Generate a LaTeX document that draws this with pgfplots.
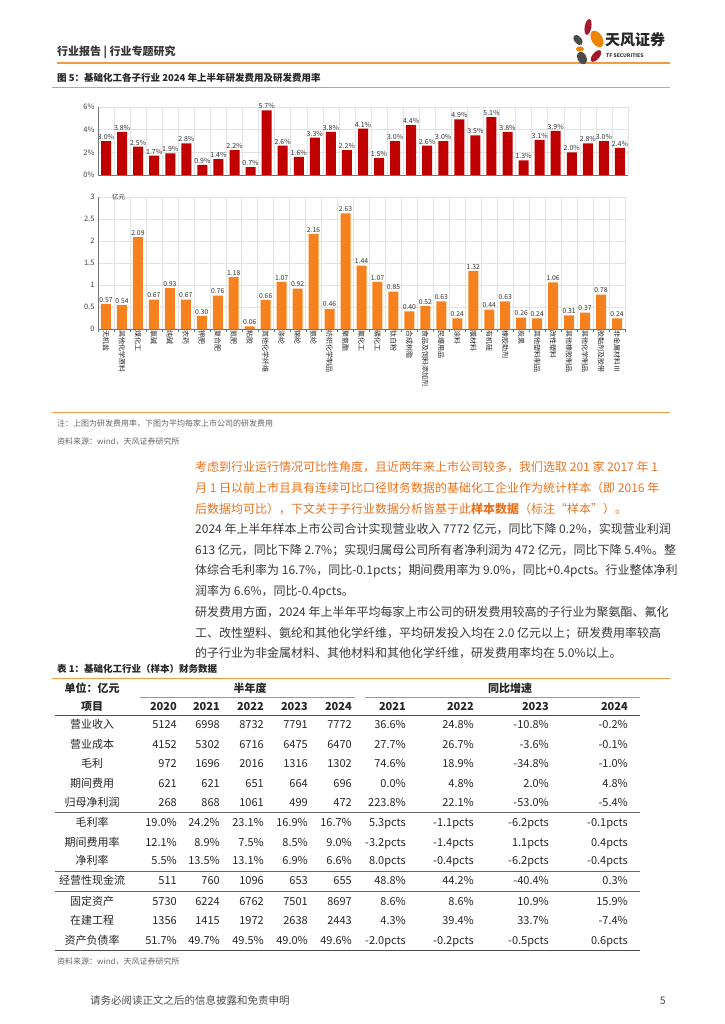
\documentclass[border=0pt]{standalone}
\usepackage{fontspec}
\setmainfont{Noto Sans CJK SC}
\usepackage{pgfplots}
\pgfplotsset{compat=1.18}
\pgfplotsset{/pgf/number format/assume math mode=true}
\definecolor{tfred}{HTML}{C00000}
\definecolor{tforange}{HTML}{F5821F}
\definecolor{lineor}{HTML}{F29A45}
\definecolor{txtor}{HTML}{E8731E}
\definecolor{bodyg}{HTML}{3A3A3A}
\definecolor{logogray}{HTML}{4A4A4A}
\definecolor{logored}{HTML}{A3192E}
\definecolor{logoor}{HTML}{F08300}
\newcommand\fs[1]{\fontsize{#1}{#1}\selectfont}
\begin{document}
\begin{tikzpicture}
\path[use as bounding box, fill=white] (0pt,0pt) rectangle (724pt,-1024pt);

% ---------- top chart: R&D expense rate ----------
\begin{axis}[at={(98pt,-175pt)}, anchor=south west, scale only axis,
  width=530pt, height=68pt,
  xmin=-0.5, xmax=32.5, ymin=0, ymax=6,
  axis x line*=bottom, axis y line*=left,
  axis line style={black!55, line width=0.6pt},
  xtick={-0.5,0.5,...,32.5}, xticklabels={}, xmajorgrids,
  ytick={0,2,4,6}, ymajorgrids,
  yticklabel={\pgfmathprintnumber{\tick}\%},
  yticklabel style={font=\fs{7.5}, color=black!75},
  grid style={gray!22, line width=0.5pt},
  tick style={draw=none},
  ybar, bar width=10pt,
  nodes near coords={\pgfmathprintnumber[fixed,fixed zerofill,precision=1]{\pgfplotspointmeta}\%},
  point meta=y,
  nodes near coords style={font=\fs{7}, color=black!80, inner sep=1.2pt},
  clip=false]
\addplot[fill=tfred, draw=none] coordinates {
(0,3.0) (1,3.8) (2,2.5) (3,1.7) (4,1.9) (5,2.8) (6,0.9) (7,1.4) (8,2.2) (9,0.7)
(10,5.7) (11,2.6) (12,1.6) (13,3.3) (14,3.8) (15,2.2) (16,4.1) (17,1.5) (18,3.0) (19,4.4)
(20,2.6) (21,3.0) (22,4.9) (23,3.5) (24,5.1) (25,3.8) (26,1.3) (27,3.1) (28,3.9) (29,2.0)
(30,2.8) (31,3.0) (32,2.4)};
\end{axis}

% ---------- bottom chart: average R&D expense per company ----------
\begin{axis}[at={(98pt,-329pt)}, anchor=south west, scale only axis,
  width=527pt, height=132pt,
  xmin=-0.5, xmax=32.5, ymin=0, ymax=3,
  axis x line*=bottom, axis y line*=left,
  axis line style={black!55, line width=0.6pt},
  xtick={0,...,32},
  xticklabels={无机盐,其他化学原料,煤化工,氯碱,纯碱,农药,钾肥,复合肥,氮肥,粘胶,其他化学纤维,涤纶,锦纶,氨纶,纺织化学制品,聚氨酯,氟化工,磷化工,钛白粉,合成树脂,食品及饲料添加剂,民爆用品,涂料,膜材料,有机硅,橡胶助剂,炭黑,其他塑料制品,改性塑料,其他橡胶制品,其他化学制品,胶黏剂及胶带,非金属材料Ⅲ},
  xticklabel style={rotate=-90, anchor=west, font=\fs{7}, color=black!85, inner sep=1pt},
  minor xtick={-0.5,0.5,...,32.5}, xminorgrids,
  ytick={0,0.5,...,3}, ymajorgrids,
  yticklabel style={font=\fs{7.5}, color=black!75},
  grid style={gray!22, line width=0.5pt},
  major tick length=0pt, minor tick length=2.5pt, tick align=outside,
  minor tick style={black!55},
  ybar, bar width=10pt,
  nodes near coords={\pgfmathprintnumber[fixed,fixed zerofill,precision=2]{\pgfplotspointmeta}},
  point meta=y,
  nodes near coords style={font=\fs{6.8}, color=black!80, inner sep=1.5pt},
  clip=false]
\addplot[fill=tforange, draw=none] coordinates {
(0,0.57) (1,0.54) (2,2.09) (3,0.67) (4,0.93) (5,0.67) (6,0.30) (7,0.76) (8,1.18) (9,0.06)
(10,0.66) (11,1.07) (12,0.92) (13,2.16) (14,0.46) (15,2.63) (16,1.44) (17,1.07) (18,0.85) (19,0.40)
(20,0.52) (21,0.63) (22,0.24) (23,1.32) (24,0.44) (25,0.63) (26,0.26) (27,0.24) (28,1.06) (29,0.31)
(30,0.37) (31,0.78) (32,0.24)};
\end{axis}

\begin{scope}[x=1pt, y=-1pt]
% header
\node[anchor=base west, inner sep=0, font=\fs{11}\bfseries, color=black!80] at (57,56) {行业报告 | 行业专题研究};
\draw[lineor, line width=1.8pt] (57,63) -- (670,63);
% logo
\fill[logored, rotate around={-10:(588,27)}] (588,27) ellipse [x radius=3.3, y radius=8];
\fill[logogray, rotate around={40:(578,40)}] (578,40) ellipse [x radius=3.5, y radius=6];
\fill[logoor, rotate around={30:(597,39)}] (597,39) ellipse [x radius=5.5, y radius=9];
\fill[logoor] (580,49) ellipse [x radius=4, y radius=2.6];
\fill[logored, rotate around={-40:(596,56)}] (596,56) ellipse [x radius=3.5, y radius=7];
\fill[logogray, rotate around={25:(582,58)}] (582,58) ellipse [x radius=4.5, y radius=6.5];
\node[anchor=base west, inner sep=0, font=\fs{15}\bfseries, color=black!85] at (605,46) {天风证券};
\node[anchor=base west, inner sep=0, font=\fs{5}\bfseries, color=black!80] at (606,58) {TF SECURITIES};
% figure title
\node[anchor=base west, inner sep=0, font=\fs{9.5}\bfseries, color=black!85] at (57,82) {图 5：基础化工各子行业 2024 年上半年研发费用及研发费用率};
\draw[lineor, line width=1pt] (52,88) -- (670,88);
\node[anchor=base west, inner sep=0, font=\fs{6.5}, color=black!80] at (112,200) {亿元};
\draw[lineor, line width=1pt] (52,412) -- (670,412);
\node[anchor=base west, inner sep=0, font=\fs{8}, color=black!60] at (57,426) {注：上图为研发费用率，下图为平均每家上市公司的研发费用};
\node[anchor=base west, inner sep=0, font=\fs{8}, color=black!60] at (57,444) {资料来源：wind，天风证券研究所};

% paragraphs
\begin{scope}[every node/.style={anchor=base west, inner sep=0, font=\fs{12}}]
\node[color=txtor] at (195,471) {考虑到行业运行情况可比性角度，且近两年来上市公司较多，我们选取 201 家 2017 年 1};
\node[color=txtor] at (195,492) {月 1 日以前上市且具有连续可比口径财务数据的基础化工企业作为统计样本（即 2016 年};
\node[color=txtor] at (195,513) {后数据均可比），下文关于子行业数据分析皆基于此{\bfseries 样本数据}（标注“样本”）。};
\node[color=bodyg] at (195,533) {2024 年上半年样本上市公司合计实现营业收入 7772 亿元，同比下降 0.2\%，实现营业利润};
\node[color=bodyg] at (195,554) {613 亿元，同比下降 2.7\%；实现归属母公司所有者净利润为 472 亿元，同比下降 5.4\%。整};
\node[color=bodyg] at (195,574) {体综合毛利率为 16.7\%，同比-0.1pcts；期间费用率为 9.0\%，同比+0.4pcts。行业整体净利};
\node[color=bodyg] at (195,595) {润率为 6.6\%，同比-0.4pcts。};
\node[color=bodyg] at (195,616) {研发费用方面，2024 年上半年平均每家上市公司的研发费用较高的子行业为聚氨酯、氟化};
\node[color=bodyg] at (195,637) {工、改性塑料、氨纶和其他化学纤维，平均研发投入均在 2.0 亿元以上；研发费用率较高};
\node[color=bodyg] at (195,657) {的子行业为非金属材料、其他材料和其他化学纤维，研发费用率均在 5.0\%以上。};
\end{scope}

% table
\node[anchor=base west, inner sep=0, font=\fs{9.5}\bfseries, color=black!85] at (57,672) {表 1：基础化工行业（样本）财务数据};
\draw[lineor, line width=1pt] (52,678) -- (670,678);
\begin{scope}[every node/.style={inner sep=0, font=\fs{11}, color=black!85}]
\node[anchor=base, font=\fs{11}\bfseries] at (92,692) {单位：亿元};
\node[anchor=base, font=\fs{11}\bfseries] at (250,692) {半年度};
\node[anchor=base, font=\fs{11}\bfseries] at (510,692) {同比增速};
\draw[black!40, line width=0.5pt] (140,697) -- (355,697);
\draw[black!40, line width=0.5pt] (365,697) -- (640,697);
\node[anchor=base, font=\fs{11}\bfseries] at (92,710) {项目};
\foreach \x/\t in {177/2020,220/2021,264/2022,308/2023,352/2024,406/2021,474/2022,549/2023,628/2024}
  \node[anchor=base east, font=\fs{11}\bfseries] at (\x,710) {\t};
\draw[black!70, line width=0.8pt] (55,715.5) -- (640,715.5);
\foreach \y/\lab/\a/\b/\c/\d/\e/\f/\g/\h/\i in {
 728/营业收入/5124/6998/8732/7791/7772/36.6\%/24.8\%/-10.8\%/-0.2\%,
 748/营业成本/4152/5302/6716/6475/6470/27.7\%/26.7\%/-3.6\%/-0.1\%,
 767/毛利/972/1696/2016/1316/1302/74.6\%/18.9\%/-34.8\%/-1.0\%,
 787/期间费用/621/621/651/664/696/0.0\%/4.8\%/2.0\%/4.8\%,
 806/归母净利润/268/868/1061/499/472/223.8\%/22.1\%/-53.0\%/-5.4\%,
 826/毛利率/19.0\%/24.2\%/23.1\%/16.9\%/16.7\%/5.3pcts/-1.1pcts/-6.2pcts/-0.1pcts,
 846/期间费用率/12.1\%/8.9\%/7.5\%/8.5\%/9.0\%/-3.2pcts/-1.4pcts/1.1pcts/0.4pcts,
 864/净利率/5.5\%/13.5\%/13.1\%/6.9\%/6.6\%/8.0pcts/-0.4pcts/-6.2pcts/-0.4pcts,
 884/经营性现金流/511/760/1096/653/655/48.8\%/44.2\%/-40.4\%/0.3\%,
 905/固定资产/5730/6224/6762/7501/8697/8.6\%/8.6\%/10.9\%/15.9\%,
 924/在建工程/1356/1415/1972/2638/2443/4.3\%/39.4\%/33.7\%/-7.4\%,
 944/资产负债率/51.7\%/49.7\%/49.5\%/49.0\%/49.6\%/-2.0pcts/-0.2pcts/-0.5pcts/0.6pcts}{
  \node[anchor=base] at (92,\y) {\lab};
  \node[anchor=base east] at (177,\y) {\a};
  \node[anchor=base east] at (220,\y) {\b};
  \node[anchor=base east] at (264,\y) {\c};
  \node[anchor=base east] at (308,\y) {\d};
  \node[anchor=base east] at (352,\y) {\e};
  \node[anchor=base east] at (406,\y) {\f};
  \node[anchor=base east] at (474,\y) {\g};
  \node[anchor=base east] at (549,\y) {\h};
  \node[anchor=base east] at (628,\y) {\i};
}
\draw[black!60, line width=0.6pt] (55,812) -- (640,812);
\draw[black!60, line width=0.6pt] (55,871) -- (640,871);
\draw[black!60, line width=0.6pt] (55,891) -- (640,891);
\draw[black!70, line width=0.8pt] (55,950) -- (640,950);
\end{scope}
\node[anchor=base west, inner sep=0, font=\fs{8}, color=black!60] at (57,964) {资料来源：wind，天风证券研究所};
% footer
\node[anchor=base west, inner sep=0, font=\fs{10.5}, color=black!70] at (90,1004) {请务必阅读正文之后的信息披露和免责申明};
\node[anchor=base east, inner sep=0, font=\fs{10.5}, color=black!70] at (666,1004) {5};
\end{scope}
\end{tikzpicture}
\end{document}
